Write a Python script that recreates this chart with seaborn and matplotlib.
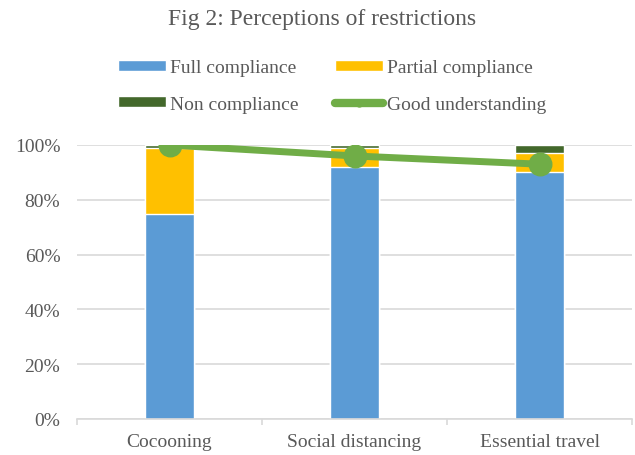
import matplotlib
matplotlib.use("Agg")
import matplotlib.pyplot as plt
import seaborn as sns
import pandas as pd
from matplotlib.patches import Patch
from matplotlib.lines import Line2D
from matplotlib.ticker import PercentFormatter, FixedLocator

categories = ["Cocooning", "Social distancing", "Essential travel"]
full_compliance = [75, 92, 90]
partial_compliance = [24, 7, 7]
non_compliance = [1, 1, 3]
good_understanding = [100, 96, 93]

sns.set_theme(style="white")
plt.rcParams["font.family"] = ["Liberation Serif", "DejaVu Serif"]
text_color = "#595959"

df = pd.DataFrame({
    "cat": categories,
    "full": full_compliance,
    "partial": partial_compliance,
    "non": non_compliance,
    "good": good_understanding,
})
df["fp"] = df["full"] + df["partial"]
df["total"] = df["fp"] + df["non"]

c_full = "#5B9BD5"
c_part = "#FFC000"
c_non = "#43682B"
c_line = "#70AD47"

fig = plt.figure(figsize=(6.35, 4.56), dpi=100)
ax = fig.add_axes([77/635, 1-420/456, (632-77)/635, (420-146)/456])

bw = 0.27
sns.barplot(data=df, x="cat", y="total", color=c_non, width=bw, ax=ax, saturation=1, zorder=2)
sns.barplot(data=df, x="cat", y="fp", color=c_part, width=bw, ax=ax, saturation=1, zorder=2)
sns.barplot(data=df, x="cat", y="full", color=c_full, width=bw, ax=ax, saturation=1, zorder=2)
sns.pointplot(data=df, x="cat", y="good", color=c_line, markers="o", linestyles="-",
              markersize=13.5, linewidth=5, ax=ax)
for coll in ax.collections:
    coll.set_zorder(6)
for ln in ax.lines:
    ln.set_zorder(5)

ax.set_ylim(0, 100)
ax.set_xlim(-0.5, 2.5)
ax.yaxis.set_major_formatter(PercentFormatter(decimals=0))
ax.set_yticks(range(0, 101, 20))
ax.xaxis.set_minor_locator(FixedLocator([-0.5, 0.5, 1.5, 2.5]))
ax.set_xlabel("")
ax.set_ylabel("")
ax.grid(axis="y", color="#D9D9D9", linewidth=1.2, zorder=0)
ax.set_axisbelow(True)
for s in ["top", "right", "left"]:
    ax.spines[s].set_visible(False)
ax.spines["bottom"].set_color("#D9D9D9")
ax.spines["bottom"].set_linewidth(1.2)
ax.tick_params(axis="y", length=0, labelsize=14, colors=text_color, pad=12)
ax.tick_params(axis="x", which="major", bottom=True, length=0, labelsize=14,
               colors=text_color, pad=10)
ax.tick_params(axis="x", which="minor", bottom=True, length=4, width=1.2,
               color="#D9D9D9", direction="out")

fig.text(322/635, 1-20/456, "Fig 2: Perceptions of restrictions", ha="center", va="center",
         fontsize=17, color=text_color)

handles = [
    Patch(facecolor=c_full, label="Full compliance"),
    Patch(facecolor=c_non, label="Non compliance"),
    Patch(facecolor=c_part, label="Partial compliance"),
    Line2D([0], [0], color=c_line, linewidth=6, marker="o", markersize=5,
           solid_capstyle="round", label="Good understanding"),
]
leg = fig.legend(handles=handles, ncol=2, loc="center", bbox_to_anchor=(332/635, 1-87/456),
                 frameon=False, fontsize=14, handlelength=2.45, handleheight=0.5,
                 handletextpad=0.2, columnspacing=1.9, labelspacing=1.0,
                 borderpad=0, borderaxespad=0)
for t in leg.get_texts():
    t.set_color(text_color)

fig.savefig("out.png", dpi=100)
